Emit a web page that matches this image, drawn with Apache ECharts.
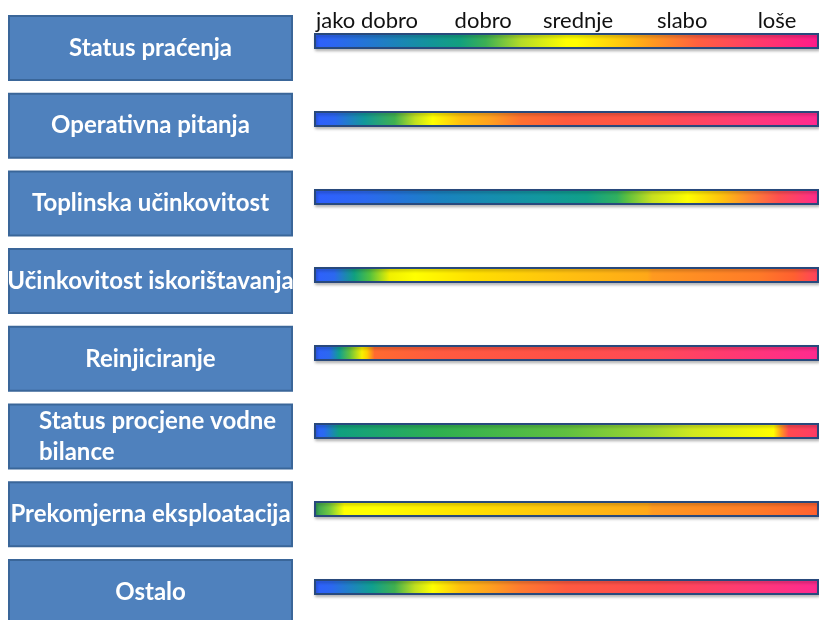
<!DOCTYPE html>
<html>
<head>
<meta charset="utf-8">
<script src="https://cdn.jsdelivr.net/npm/echarts@6/dist/echarts.min.js"></script>
<style>
  html, body { margin: 0; padding: 0; background: #ffffff; }
  #chart { width: 819px; height: 620px; }
</style>
</head>
<body>
<div id="chart"></div>
<script>
// ---- data ----
const categories = [
  'Status praćenja',
  'Operativna pitanja',
  'Toplinska učinkovitost',
  'Učinkovitost iskorištavanja',
  'Reinjiciranje',
  'Status procjene vodne bilance',
  'Prekomjerna eksploatacija',
  'Ostalo'
];
// every bar spans the whole rating scale (0 = jako dobro ... 100 = loše)
const barValues = [100, 100, 100, 100, 100, 100, 100, 100];

const scaleLabels = ['jako dobro', 'dobro', 'srednje', 'slabo', 'loše'];
const scaleLabelValues = [10.5, 33.5, 52.3, 72.9, 91.7];

// colour stops along each bar (offset on the 0..1 scale, colour)
const stopsStatusPracenja = [
  [0, '#2f5fff'], [0.04, '#2c66f2'], [0.23, '#13949a'], [0.29, '#12a07e'],
  [0.34, '#3cb054'], [0.41, '#b4dc28'], [0.5, '#ffff00'], [0.52, '#ffff00'],
  [0.62, '#ffc010'], [0.67, '#ff9a20'], [0.76, '#ff6040'], [0.88, '#ff3a6a'], [1, '#ff1a8c']
];
const stopsOperativnaPitanja = [
  [0, '#2f5fff'], [0.04, '#2c66f2'], [0.1, '#12989a'], [0.16, '#40b050'],
  [0.2, '#c0e020'], [0.235, '#ffff00'], [0.29, '#ffc010'], [0.35, '#ffa020'],
  [0.41, '#ff7030'], [0.5, '#ff5a3e'], [0.65, '#ff5545'], [0.72, '#ff4a55'],
  [0.86, '#ff3a78'], [1, '#ff2a90']
];
const stopsToplinskaUcinkovitost = [
  [0, '#2f5fff'], [0.1, '#2c68f0'], [0.25, '#1a82c0'], [0.45, '#12989e'],
  [0.54, '#10a088'], [0.6, '#30b060'], [0.62, '#5cc040'], [0.67, '#c8e020'],
  [0.74, '#ffff00'], [0.81, '#ffc010'], [0.86, '#ff8a30'], [0.92, '#ff5050'], [1, '#ff2a8c']
];
const stopsUcinkovitostIskoristavanja = [
  [0, '#2f5fff'], [0.04, '#2c68f0'], [0.08, '#10a080'], [0.11, '#50c040'],
  [0.15, '#f0f000'], [0.2, '#ffff00'], [0.31, '#ffe000'], [0.5, '#ffc010'],
  [0.66, '#ffa818'], [0.67, '#ff9a20'], [0.88, '#ff7a28'], [0.95, '#ff6030'], [1, '#ff4060']
];
const stopsReinjiciranje = [
  [0, '#2f5fff'], [0.03, '#2c68f0'], [0.05, '#10a090'], [0.07, '#60c040'],
  [0.095, '#f8f000'], [0.105, '#ffd000'], [0.12, '#ff6a30'], [0.25, '#ff5a40'],
  [0.5, '#ff5048'], [0.68, '#ff4a58'], [0.82, '#ff3a70'], [1, '#ff2a90']
];
const stopsVodnaBilanca = [
  [0, '#2f5fff'], [0.02, '#2a6af0'], [0.05, '#10a080'], [0.25, '#30b050'],
  [0.5, '#60c040'], [0.67, '#a0d830'], [0.75, '#d0e820'], [0.91, '#ffff00'],
  [0.925, '#ff9a20'], [0.94, '#ff4a50'], [1, '#ff3a68']
];
const stopsPrekomjernaEksploatacija = [
  [0, '#2a9a5a'], [0.03, '#70c840'], [0.06, '#ffff00'], [0.12, '#ffff00'],
  [0.31, '#ffe000'], [0.5, '#ffc010'], [0.66, '#ffa818'], [0.67, '#ff9a20'],
  [0.88, '#ff7a28'], [1, '#ff6030']
];
const stopsOstalo = [
  [0, '#2f5fff'], [0.035, '#2c68f0'], [0.115, '#10a090'], [0.16, '#40b050'],
  [0.2, '#c0e020'], [0.235, '#ffff00'], [0.29, '#ffc010'], [0.35, '#ffa020'],
  [0.41, '#ff7a30'], [0.5, '#ff5a40'], [0.68, '#ff4a50'], [0.86, '#ff3a75'], [1, '#ff2a90']
];
const gradientStops = [
  stopsStatusPracenja, stopsOperativnaPitanja, stopsToplinskaUcinkovitost,
  stopsUcinkovitostIskoristavanja, stopsReinjiciranje, stopsVodnaBilanca,
  stopsPrekomjernaEksploatacija, stopsOstalo
];

// ---- chart ----
const FONT = "Lato, 'Liberation Sans', sans-serif";
const chart = echarts.init(document.getElementById('chart'), null, { renderer: 'canvas' });

const barData = barValues.map((v, i) => ({
  value: v,
  itemStyle: {
    color: new echarts.graphic.LinearGradient(0, 0, 1, 0,
      gradientStops[i].map(s => ({ offset: s[0], color: s[1] })))
  }
}));

chart.setOption({
  animation: false,
  backgroundColor: '#ffffff',
  grid: [
    { left: 314, right: 0, top: 2, height: 624, containLabel: false, outerBoundsMode: 'none' },
    { left: 170, width: 20, top: 9.15, height: 621.6, containLabel: false, outerBoundsMode: 'none' }
  ],
  xAxis: [
    {
      gridIndex: 0, type: 'value', min: 0, max: 100, position: 'top',
      axisLine: { show: false }, axisTick: { show: false }, splitLine: { show: false },
      axisLabel: {
        inside: true, margin: 8, color: '#111', fontSize: 22, fontFamily: FONT,
        customValues: scaleLabelValues,
        formatter: (v) => {
          const k = scaleLabelValues.indexOf(v);
          return k >= 0 ? scaleLabels[k] : '';
        }
      }
    },
    { gridIndex: 1, type: 'value', show: false }
  ],
  yAxis: [
    {
      gridIndex: 0, type: 'category', inverse: true, data: categories, show: false
    },
    {
      gridIndex: 1, type: 'category', inverse: true, data: categories,
      axisLine: { show: false }, axisTick: { show: false }, splitLine: { show: false },
      axisLabel: {
        interval: 0, margin: 19.5, align: 'center', verticalAlign: 'middle',
        width: 281, overflow: 'none',
        backgroundColor: '#4f81bd', borderColor: '#3a6699', borderWidth: 2,
        color: '#ffffff', fontWeight: 'bold', fontSize: 24, fontFamily: FONT,
        formatter: (v) => v === categories[5]
          ? '{l|Status procjene vodne}\n{l|bilance}'
          : '{c|' + v + '}',
        rich: {
          c: {
            align: 'center', color: '#ffffff', fontWeight: 'bold',
            fontSize: 24, fontFamily: FONT, lineHeight: 62
          },
          l: {
            align: 'left', padding: [0, 0, 0, 29], color: '#ffffff', fontWeight: 'bold',
            fontSize: 24, fontFamily: FONT, lineHeight: 31
          }
        }
      }
    }
  ],
  series: [
    {
      type: 'bar', xAxisIndex: 0, yAxisIndex: 0, barWidth: 16,
      data: barData,
      itemStyle: {
        borderColor: '#28497c', borderWidth: 2,
        shadowColor: 'rgba(0,0,0,0.25)', shadowBlur: 3, shadowOffsetX: 1, shadowOffsetY: 2
      },
      silent: true
    }
  ]
});
</script>
</body>
</html>
